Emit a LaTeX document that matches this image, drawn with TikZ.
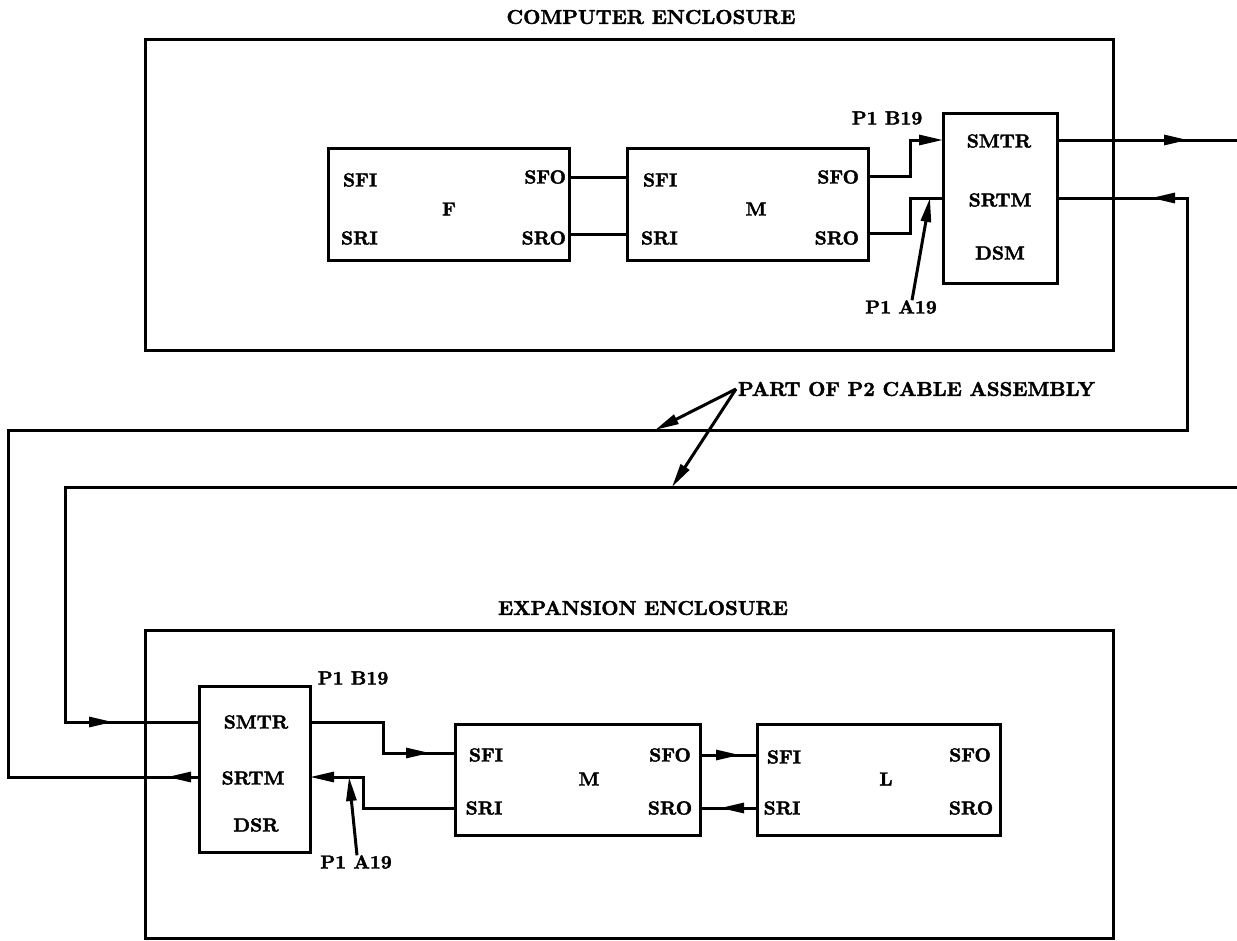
\documentclass[tikz,border=0pt]{standalone}
\usepackage{fontspec}
\newfontfamily\heavy{lmroman10-bold.otf}[FakeBold=2]
\usetikzlibrary{arrows.meta,decorations.markings}
\tikzset{
  blk/.style={draw, line width=3pt, inner sep=0pt, outer sep=0pt},
  wire/.style={line width=3pt},
  lbl/.style={font=\heavy\fontsize{19}{19}\selectfont, inner sep=0pt, outer sep=0pt},
  ttl/.style={font=\heavy\fontsize{20}{20}\selectfont, inner sep=0pt, outer sep=0pt},
  endtip/.style={-{Triangle[length=24pt,width=10pt]}},
  midtip/.style={postaction={decorate}, decoration={markings, mark=at position #1 with {\arrow{Triangle[length=24pt,width=10pt]}}}},
}
\begin{document}
\begin{tikzpicture}[x=1pt,y=-1pt]
\useasboundingbox (0,0) rectangle (1237,940);
% enclosures
\node[blk, minimum width=968pt, minimum height=311pt] (CE) at (629,194.5) {};
\node[blk, minimum width=968pt, minimum height=308pt] (EE) at (629,784) {};
\node[ttl] (CEt) at (651,17) {COMPUTER ENCLOSURE};
\node[ttl] (EEt) at (643,608) {EXPANSION ENCLOSURE};
% top boxes
\node[blk, minimum width=241pt, minimum height=112pt] (F) at (448.5,204) {};
\node[blk, minimum width=241pt, minimum height=112pt] (M1) at (747.5,204) {};
\node[blk, minimum width=114pt, minimum height=170pt] (DSM) at (1000,198) {};
% bottom boxes
\node[blk, minimum width=111pt, minimum height=166pt] (DSR) at (254.5,769) {};
\node[blk, minimum width=245pt, minimum height=111pt] (M2) at (577.5,779.5) {};
\node[blk, minimum width=243pt, minimum height=111pt] (L) at (878.5,779.5) {};
% labels F
\node[lbl, anchor=west] (Fsfi) at (343,180) {SFI};
\node[lbl] (Fn) at (449,209) {F};
\node[lbl, anchor=east] (Fsfo) at (566,177) {SFO};
\node[lbl, anchor=west] (Fsri) at (341,238) {SRI};
\node[lbl, anchor=east] (Fsro) at (566,238) {SRO};
% labels M1
\node[lbl, anchor=west] (Msfi) at (643,180) {SFI};
\node[lbl] (Mn) at (756,209) {M};
\node[lbl, anchor=east] (Msfo) at (859,177) {SFO};
\node[lbl, anchor=west] (Msri) at (641,238) {SRI};
\node[lbl, anchor=east] (Msro) at (859,238) {SRO};
% labels DSM
\node[lbl] (Dsmtr) at (999,141) {SMTR};
\node[lbl] (Dsrtm) at (1000,200) {SRTM};
\node[lbl] (Ddsm) at (1000,253) {DSM};
\node[lbl] (PB1) at (887,118) {P1 B19};
\node[lbl] (PA1) at (901,307) {P1 A19};
% labels DSR
\node[lbl] (Rsmtr) at (256,722) {SMTR};
\node[lbl] (Rsrtm) at (253,778) {SRTM};
\node[lbl] (Rdsr) at (256,825) {DSR};
\node[lbl] (PB2) at (353,678) {P1 B19};
\node[lbl] (PA2) at (356,862) {P1 A19};
% labels M2
\node[lbl] (M2sfi) at (486,755) {SFI};
\node[lbl] (M2n) at (589,779) {M};
\node[lbl] (M2sfo) at (670,755) {SFO};
\node[lbl] (M2sri) at (484,808) {SRI};
\node[lbl] (M2sro) at (670,808) {SRO};
% labels L
\node[lbl] (Lsfi) at (784,757) {SFI};
\node[lbl] (Ln) at (886,779) {L};
\node[lbl] (Lsfo) at (970,755) {SFO};
\node[lbl] (Lsri) at (782,808) {SRI};
\node[lbl] (Lsro) at (971,808) {SRO};
% cable label
\node[ttl, anchor=west] (P2) at (738,389) {PART OF P2 CABLE ASSEMBLY};
% coordinates for cable corners
\coordinate (offR1) at (1237,140);
\coordinate (offR2) at (1237,487);
\coordinate (cabA) at (8,430);
\coordinate (cabB) at (1187,430);
\coordinate (cabC) at (65,487);
% top wires
\draw[wire] ([yshift=27pt]F.east) -- ([yshift=27pt]M1.west);
\draw[wire] ([yshift=-30pt]F.east) -- ([yshift=-30pt]M1.west);
\draw[wire, endtip] ([yshift=28pt]M1.east) -- ++(42,0) |- ([yshift=58pt]DSM.west);
\draw[wire] ([yshift=-29pt]M1.east) -- ++(42,0) |- (DSM.west);
\draw[wire, endtip] ([xshift=11pt]PA1.north) -- ([xshift=-13pt]DSM.west);
\draw[wire, midtip=131pt] ([yshift=58pt]DSM.east) -- (offR1);
% return cable
\draw[wire, postaction={decorate}, decoration={markings,
   mark=at position 32pt with {\arrow{Triangle[length=24pt,width=10pt]}},
   mark=at position 1985pt with {\arrow{Triangle[length=24pt,width=10pt]}}}]
   ([yshift=-8pt]DSR.west) -| (cabA) -- (cabB) |- (DSM.east);
% forward cable
\draw[wire, midtip=1455pt] (offR2) -- (cabC) |- ([yshift=47pt]DSR.west);
% cable label leaders
\draw[wire, endtip] ([xshift=-2pt]P2.west) -- ([xshift=647pt]cabA);
\draw[wire, endtip] ([xshift=-2pt]P2.west) -- ([xshift=607pt]cabC);
% bottom wires
\draw[wire, midtip=151pt] ([yshift=47pt]DSR.east) -- ++(73,0) |- ([yshift=26.5pt]M2.west);
\draw[wire, endtip] ([yshift=-28.5pt]M2.west) -- ++(-92,0) |- ([yshift=-8pt]DSR.east);
\draw[wire, endtip] ([xshift=1pt]PA2.north) -- ([xshift=39pt,yshift=-8pt]DSR.east);
\draw[wire, midtip=40pt] ([yshift=24.5pt]M2.east) -- ([yshift=24.5pt]L.west);
\draw[wire, midtip=37pt] ([yshift=-28.5pt]L.west) -- ([yshift=-28.5pt]M2.east);
\end{tikzpicture}
\end{document}
